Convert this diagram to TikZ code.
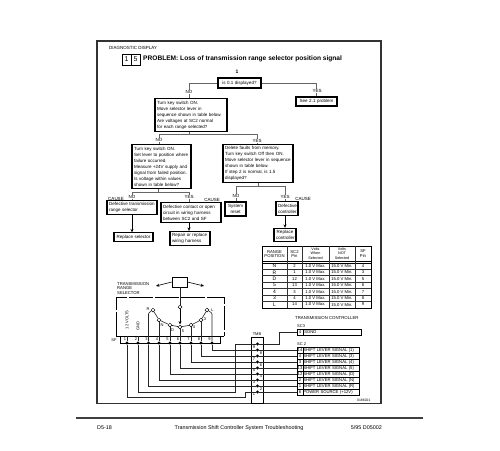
\documentclass[tikz,border=0pt]{standalone}
\usepackage{fontspec}
\setmainfont{Liberation Sans}
\usetikzlibrary{arrows.meta,positioning}

\begin{document}
\begin{tikzpicture}[x=1pt,y=-1pt]
\tikzset{
  flowbox/.style={draw,line width=1.1pt,inner sep=2pt,align=left,font=\fontsize{4.5}{6}\selectfont},
  cellbox/.style={draw,line width=.6pt,inner sep=0pt,font=\fontsize{4.2}{5}\selectfont},
  tag/.style={inner sep=.5pt,fill=white,font=\fontsize{4.5}{5}\selectfont},
  causetag/.style={inner sep=0pt,font=\fontsize{4.5}{5}\selectfont},
  plain/.style={inner sep=0pt,align=center,font=\fontsize{4.2}{4.6}\selectfont},
  head/.style={inner sep=0pt,align=center,font=\fontsize{3.7}{4.4}\selectfont},
  selpos/.style={circle,draw,fill=white,line width=.5pt,minimum size=3.8pt,inner sep=0pt},
  pinname/.style={inner sep=0pt,font=\fontsize{4}{4}\selectfont},
  dot/.style={circle,fill=black,minimum size=3.4pt,inner sep=0pt},
  wire/.style={line width=.6pt,black!85},
  flowline/.style={line width=.6pt,black!60},
  directed/.style={-{Stealth[length=3.4pt,width=3pt]},line width=.6pt}
}
\useasboundingbox (0,0) rectangle (500,450);
\draw[line width=1.1pt,black!80] (97,41) rectangle (381,403.5);
\draw[line width=1.2pt,black!75] (76,418) -- (423,418);
% heading
\node[anchor=west,inner sep=0pt,font=\fontsize{4.5}{5}\selectfont] (n_title) at (109,48) {DIAGNOSTIC DISPLAY};
\node[draw,line width=.6pt,minimum width=9pt,minimum height=11pt,inner sep=0pt,font=\fontsize{7}{8}\selectfont] (n_codeA) at (126.5,59.5) {1};
\node[draw,line width=.6pt,minimum width=9pt,minimum height=11pt,inner sep=0pt,font=\fontsize{7}{8}\selectfont] (n_codeB) at (135.5,59.5) {5};
\node[anchor=west,inner sep=0pt,font=\bfseries\fontsize{6.6}{8}\selectfont] (n_problem) at (143,59) {PROBLEM: Loss of transmission range selector position signal};
\node[inner sep=0pt,font=\bfseries\fontsize{5}{6}\selectfont] (n_stepone) at (237,72) {1};
% flow chart
\node[flowbox,text width=39pt,minimum height=10pt,align=center] (n_disp) at (239.5,83) {is 0.1 displayed?};
\node[flowbox,text width=37pt,minimum height=9pt,align=center] (n_see) at (316.5,101.5) {See 2.1 problem};
\node[flowbox,text width=68pt,minimum height=31pt] (n_ask2) at (191,115) {Turn key switch ON.\\Move selector lever in\\sequence shown in table below.\\Are voltages at SC2 normal\\for each range selected?};
\node[flowbox,text width=55pt,minimum height=43pt] (n_fail) at (161.5,166.5) {Turn key switch ON.\\Set lever to position where\\failure occurred.\\Measure +24V supply and\\signal from failed position.\\Is voltage within values\\shown in table below?};
\node[flowbox,text width=66pt,minimum height=37pt] (n_erase) at (258,163.5) {Delete faults from memory.\\Turn key switch Off then ON.\\Move selector lever in sequence\\shown in table below.\\If step 2 is normal, is 1.5\\displayed?};
\node[flowbox,text width=46pt,minimum height=11pt] (n_badsel) at (132,207.5) {Defective transmission\\range selector};
\node[flowbox,text width=56pt,minimum height=19pt] (n_badwire) at (191,212.5) {Defective contact or open\\circuit in wiring harness\\between SC2 and SF};
\node[flowbox,text width=35pt,minimum height=8pt,align=center] (n_repsel) at (133.5,237) {Replace selector};
\node[flowbox,text width=36pt,minimum height=13pt] (n_repwire) at (190,238.5) {Repair or replace\\wiring harness};
\node[flowbox,text width=17pt,minimum height=14pt,align=center] (n_reset) at (235.5,209) {System\\reset};
\node[flowbox,text width=18pt,minimum height=13pt,align=center] (n_badctl) at (287,208.5) {Defective\\controller};
\node[flowbox,text width=18pt,minimum height=12pt,align=center] (n_repctl) at (285,235) {Replace\\controller};
\coordinate (j_ask) at (189,134);
\coordinate (j_no) at (159,134);
\coordinate (j_yes) at (257,134);
\coordinate (j_faila) at (158,192);
\coordinate (j_failn) at (132,192);
\coordinate (j_faily) at (189,192);
\coordinate (j_erasea) at (258,186);
\coordinate (j_erasen) at (236,186);
\coordinate (j_erasey) at (285,186);
\draw[flowline] (n_disp.west) -| (j_ask |- n_ask2.north);
\draw[flowline] (n_disp.east) -| (n_see.north);
\draw[flowline] (j_ask |- n_ask2.south) -- (j_ask);
\draw[flowline] (j_no |- n_fail.north) -- (j_no) -- (j_yes) -- (j_yes |- n_erase.north);
\draw[flowline] (j_faila |- n_fail.south) -- (j_faila);
\draw[flowline] (j_failn |- n_badsel.north) -- (j_failn) -- (j_faily) -- (j_faily |- n_badwire.north);
\draw[flowline] (j_erasea |- n_erase.south) -- (j_erasea);
\draw[flowline] (j_erasen |- n_reset.north) -- (j_erasen) -- (j_erasey) -- (j_erasey |- n_badctl.north);
\draw[directed] (n_badsel.south) -- (n_badsel.south |- n_repsel.north);
\draw[directed] (j_faily |- n_badwire.south) -- (j_faily |- n_repwire.north);
\draw[directed] (j_erasey |- n_badctl.south) -- (j_erasey |- n_repctl.north);
\node[tag] (n_noA) at (189,92) {NO};
\node[tag] (n_yesA) at (317,91) {YES};
\node[tag] (n_noB) at (159,140) {NO};
\node[tag] (n_yesB) at (257,141) {YES};
\node[tag] (n_noC) at (132,197) {NO};
\node[tag] (n_yesC) at (189,197) {YES};
\node[tag] (n_noD) at (236,196) {NO};
\node[tag] (n_yesD) at (285,197) {YES};
\node[causetag] (n_causeA) at (116,199) {CAUSE};
\node[causetag] (n_causeB) at (212,199.5) {CAUSE};
\node[causetag] (n_causeC) at (303,199) {CAUSE};
% range table
\draw[line width=1pt] (262,246) rectangle (371,308);
\draw[line width=.8pt] (262,261) -- (371,261);
\draw[line width=.8pt] (262,263) -- (371,263);
\draw[line width=.5pt,black!80] (262,269.3) -- (371,269.3);
\draw[line width=.5pt,black!80] (262,275.7) -- (371,275.7);
\draw[line width=.5pt,black!80] (262,282.1) -- (371,282.1);
\draw[line width=.5pt,black!80] (262,288.5) -- (371,288.5);
\draw[line width=.5pt,black!80] (262,294.9) -- (371,294.9);
\draw[line width=.5pt,black!80] (262,301.3) -- (371,301.3);
\draw[line width=.5pt,black!80] (287,246) -- (287,308);
\draw[line width=.5pt,black!80] (302.5,246) -- (302.5,308);
\draw[line width=.5pt,black!80] (329,246) -- (329,308);
\draw[line width=.5pt,black!80] (355.5,246) -- (355.5,308);
\node[plain] (n_hrange) at (274.5,254) {RANGE\\POSITION};
\node[plain] (n_hsc) at (294.5,254) {SC2\\Pin};
\node[head] (n_hwhen) at (315.5,253.5) {Volts\\When\\Selected};
\node[head] (n_hnot) at (342,253.5) {Volts\\NOT\\Selected};
\node[plain] (n_hsf) at (363,253.5) {SF\\Pin};
\node[plain,font=\fontsize{5}{5}\selectfont] (n_rN) at (274.5,265.9) {N};
\node[plain,font=\fontsize{5}{5}\selectfont] (n_rR) at (274.5,272.4) {R};
\node[plain,font=\fontsize{5}{5}\selectfont] (n_rD) at (274.5,278.8) {D};
\node[plain,font=\fontsize{5}{5}\selectfont] (n_rF) at (274.5,285.2) {5};
\node[plain,font=\fontsize{5}{5}\selectfont] (n_rV) at (274.5,291.6) {4};
\node[plain,font=\fontsize{5}{5}\selectfont] (n_rT) at (274.5,298) {3};
\node[plain,font=\fontsize{5}{5}\selectfont] (n_rL) at (274.5,304.5) {L};
\node[plain] (n_sN) at (294.5,265.9) {2};
\node[plain] (n_sR) at (294.5,272.4) {1};
\node[plain] (n_sD) at (294.5,278.8) {12};
\node[plain] (n_sF) at (294.5,285.2) {13};
\node[plain] (n_sV) at (294.5,291.6) {3};
\node[plain] (n_sT) at (294.5,298) {4};
\node[plain] (n_sL) at (294.5,304.5) {14};
\node[plain] (n_wN) at (315.5,265.9) {1.0 V Max.};
\node[plain] (n_wR) at (315.5,272.4) {1.0 V Max.};
\node[plain] (n_wD) at (315.5,278.8) {1.0 V Max.};
\node[plain] (n_wF) at (315.5,285.2) {1.0 V Max.};
\node[plain] (n_wV) at (315.5,291.6) {1.0 V Max.};
\node[plain] (n_wT) at (315.5,298) {1.0 V Max.};
\node[plain] (n_wL) at (315.5,304.5) {1.0 V Max.};
\node[plain] (n_oN) at (342,265.9) {15.0 V Min.};
\node[plain] (n_oR) at (342,272.4) {15.0 V Min.};
\node[plain] (n_oD) at (342,278.8) {15.0 V Min.};
\node[plain] (n_oF) at (342,285.2) {15.0 V Min.};
\node[plain] (n_oV) at (342,291.6) {15.0 V Min.};
\node[plain] (n_oT) at (342,298) {15.0 V Min.};
\node[plain] (n_oL) at (342,304.5) {15.0 V Min.};
\node[plain] (n_fN) at (363,265.9) {4};
\node[plain] (n_fR) at (363,272.4) {3};
\node[plain] (n_fD) at (363,278.8) {5};
\node[plain] (n_fF) at (363,285.2) {6};
\node[plain] (n_fV) at (363,291.6) {7};
\node[plain] (n_fT) at (363,298) {8};
\node[plain] (n_fL) at (363,304.5) {9};
% selector
\draw[line width=.7pt,dash pattern=on 24pt off 2pt] (116,336) -- (116,297) -- (224,297) -- (224,336);
\draw[line width=.7pt] (116,336) -- (120,336);
\draw[line width=.7pt] (220,336) -- (224,336);
\node[anchor=north west,inner sep=0pt,align=left,font=\fontsize{4.2}{4.6}\selectfont] (n_selname) at (117,282) {TRANSMISSION\\RANGE\\SELECTOR};
\node[draw,line width=.6pt,minimum width=15pt,minimum height=10pt,inner sep=0pt] (n_lever) at (179.5,282) {};
\node[selpos] (n_arm) at (180,307) {};
\node[selpos] (n_posR) at (153,310) {};
\node[selpos] (n_posN) at (159,320) {};
\node[selpos] (n_posD) at (170,325) {};
\node[selpos] (n_posS) at (180,327) {};
\node[selpos] (n_posF) at (191,325) {};
\node[selpos] (n_posT) at (201,320) {};
\node[selpos] (n_posL) at (207,310) {};
\coordinate (c_moveL) at (156,286);
\coordinate (c_moveR) at (204,286);
\coordinate (c_tip) at (180,324.5);
\draw[directed] (n_lever.west) -- (c_moveL);
\draw[directed] (n_lever.east) -- (c_moveR);
\draw[wire] (n_lever.south -| n_arm) -- (n_arm);
\draw[directed] (n_arm) -- (c_tip);
\draw[wire] (n_posR) -- (n_posN) -- (n_posD) -- (n_posS) -- (n_posF) -- (n_posT) -- (n_posL);
\node[draw,line width=.7pt,minimum width=100pt,minimum height=7pt,inner sep=0pt] (n_sf) at (170,339.5) {};
\node[pinname] (n_sfname) at (114,340) {SF};
\node[pinname,rotate=90] (n_volts) at (127,320) {12 VOLTS};
\node[pinname,rotate=90] (n_gnd) at (138,326) {GND};
\node[pinname] (n_lR) at (148,309) {R};
\node[pinname] (n_lN) at (162,325) {N};
\node[pinname] (n_lD) at (172.5,330) {D};
\node[pinname] (n_lS) at (183,331) {5};
\node[pinname] (n_lF) at (194,327.5) {4};
\node[pinname] (n_lT) at (205,319) {3};
\node[pinname] (n_lL) at (212.5,310) {L};
\node[pinname] (n_nA) at (125,339.5) {1};
\node[pinname] (n_nB) at (136,339.5) {2};
\node[pinname] (n_nC) at (146.5,339.5) {3};
\node[pinname] (n_nD) at (157,339.5) {4};
\node[pinname] (n_nE) at (167.5,339.5) {5};
\node[pinname] (n_nF) at (178,339.5) {6};
\node[pinname] (n_nG) at (188.5,339.5) {7};
\node[pinname] (n_nH) at (199,339.5) {8};
\node[pinname] (n_nI) at (209.5,339.5) {9};
\node[dot] (n_pin1) at (127,343) {};
\node[dot] (n_pin2) at (138,343) {};
\node[dot] (n_pin3) at (148.5,343) {};
\node[dot] (n_pin4) at (159,343) {};
\node[dot] (n_pin5) at (170,343) {};
\node[dot] (n_pin6) at (180,343) {};
\node[dot] (n_pin7) at (191,343) {};
\node[dot] (n_pin8) at (201,343) {};
\node[dot] (n_pin9) at (212,343) {};
\draw[wire] (n_pin1) -- (n_pin1 |- n_sf.north);
\draw[wire] (n_pin2) -- (n_pin2 |- n_sf.north);
\draw[wire,rounded corners=1pt] (n_pin3) -- (148.5,313) -- (n_posR);
\draw[wire] (n_pin4) -- (n_posN);
\draw[wire] (n_pin5) -- (n_posD);
\draw[wire] (n_pin6) -- (n_posS);
\draw[wire] (n_pin7) -- (n_posF);
\draw[wire] (n_pin8) -- (n_posT);
\draw[wire,rounded corners=1pt] (n_pin9) -- (212,313) -- (n_posL);
% controller
\node[anchor=west,inner sep=0pt,font=\fontsize{4.3}{5}\selectfont] (n_ctlname) at (295,318) {TRANSMISSION  CONTROLLER};
\node[anchor=west,inner sep=0pt,font=\fontsize{4}{5}\selectfont] (n_scthree) at (297,326) {SC3};
\node[anchor=west,inner sep=0pt,font=\fontsize{4}{5}\selectfont] (n_sctwo) at (297,344) {SC 2};
\node[cellbox,minimum width=6pt,minimum height=6pt] (n_three4) at (300,332) {4};
\node[cellbox,anchor=west,minimum width=58pt,minimum height=6pt,text width=56pt] (n_sgnd) at (303,332) {SGND};
\node[cellbox,minimum width=6pt,minimum height=6pt] (n_two14) at (300,350) {14};
\node[cellbox,minimum width=6pt,minimum height=6pt] (n_two4) at (300,356) {4};
\node[cellbox,minimum width=6pt,minimum height=6pt] (n_two3) at (300,362) {3};
\node[cellbox,minimum width=6pt,minimum height=6pt] (n_two13) at (300,368) {13};
\node[cellbox,minimum width=6pt,minimum height=6pt] (n_two12) at (300,374) {12};
\node[cellbox,minimum width=6pt,minimum height=6pt] (n_two2) at (300,380) {2};
\node[cellbox,minimum width=6pt,minimum height=6pt] (n_two1) at (300,386) {1};
\node[cellbox,minimum width=6pt,minimum height=6pt] (n_two6) at (300,392) {6};
\node[cellbox,anchor=west,minimum height=6pt,text width=56pt] (n_sigA) at (303,350) {SHIFT LEVER SIGNAL (1)};
\node[cellbox,anchor=west,minimum height=6pt,text width=56pt] (n_sigB) at (303,356) {SHIFT LEVER SIGNAL (3)};
\node[cellbox,anchor=west,minimum height=6pt,text width=56pt] (n_sigC) at (303,362) {SHIFT LEVER SIGNAL (4)};
\node[cellbox,anchor=west,minimum height=6pt,text width=56pt] (n_sigD) at (303,368) {SHIFT LEVER SIGNAL (5)};
\node[cellbox,anchor=west,minimum height=6pt,text width=56pt] (n_sigE) at (303,374) {SHIFT LEVER SIGNAL (D)};
\node[cellbox,anchor=west,minimum height=6pt,text width=56pt] (n_sigF) at (303,380) {SHIFT LEVER SIGNAL (N)};
\node[cellbox,anchor=west,minimum height=6pt,text width=56pt] (n_sigG) at (303,386) {SHIFT LEVER SIGNAL (R)};
\node[cellbox,anchor=west,minimum height=6pt,text width=56pt] (n_sigH) at (303,392) {POWER SOURCE (+12V)};
\node[anchor=west,inner sep=0pt,font=\fontsize{3.4}{4}\selectfont] (n_figno) at (357,400) {0186021};
% terminal block
\node[draw,line width=.6pt,minimum width=12pt,minimum height=66.5pt,inner sep=0pt] (n_tmb) at (257,370.25) {};
\node[inner sep=0pt,font=\fontsize{4}{5}\selectfont] (n_tmbname) at (257,334) {TMB};
\node[dot] (n_tm9) at (257.5,344) {};
\node[dot] (n_tm8) at (257.5,350) {};
\node[dot] (n_tm7) at (257.5,356) {};
\node[dot] (n_tm6) at (257.5,362) {};
\node[dot] (n_tm5) at (257.5,368) {};
\node[dot] (n_tm4) at (257.5,374) {};
\node[dot] (n_tm3) at (257.5,380) {};
\node[dot] (n_tm2) at (257.5,386) {};
\node[dot] (n_tm1) at (257.5,392) {};
\node[pinname] (n_tA) at (254,347) {9};
\node[pinname] (n_tB) at (261,353) {8};
\node[pinname] (n_tC) at (254,359) {7};
\node[pinname] (n_tD) at (261,365) {6};
\node[pinname] (n_tE) at (254,370.5) {5};
\node[pinname] (n_tF) at (261,376) {4};
\node[pinname] (n_tG) at (254,382) {3};
\node[pinname] (n_tH) at (261,389) {2};
\node[pinname] (n_tI) at (254,394.5) {1};
\draw[wire] (n_pin9) |- (n_tm8);
\draw[wire] (n_pin8) |- (n_tm7);
\draw[wire] (n_pin7) |- (n_tm6);
\draw[wire] (n_pin6) |- (n_tm5);
\draw[wire] (n_pin5) |- (n_tm4);
\draw[wire] (n_pin4) |- (n_tm3);
\draw[wire] (n_pin3) |- (n_tm2);
\draw[wire] (n_pin2) -- (138,392) -- (235.7,392) -- (235.7,344) -- (n_tm9);
\draw[wire] (n_pin1) -- (127,397.5) -- (245,397.5) -- (245,392) -- (n_tm1);
\draw[wire] (n_tm9) -- (279,344) -- (279,332) -- (n_three4);
\draw[wire] (n_tm8) -- (n_two14);
\draw[wire] (n_tm7) -- (n_two4);
\draw[wire] (n_tm6) -- (n_two3);
\draw[wire] (n_tm5) -- (n_two13);
\draw[wire] (n_tm4) -- (n_two12);
\draw[wire] (n_tm3) -- (n_two2);
\draw[wire] (n_tm2) -- (n_two1);
\draw[wire] (n_tm1) -- (n_two6);
% footer
\node[anchor=west,inner sep=0pt,font=\fontsize{5.4}{6}\selectfont] (n_page) at (97,428) {D5-18};
\node[inner sep=0pt,font=\fontsize{5.4}{6}\selectfont] (n_foot) at (239,428) {Transmission Shift Controller System Troubleshooting};
\node[anchor=east,inner sep=0pt,font=\fontsize{5.4}{6}\selectfont] (n_date) at (382,428) {5/95 D05002};
\end{tikzpicture}
\end{document}
